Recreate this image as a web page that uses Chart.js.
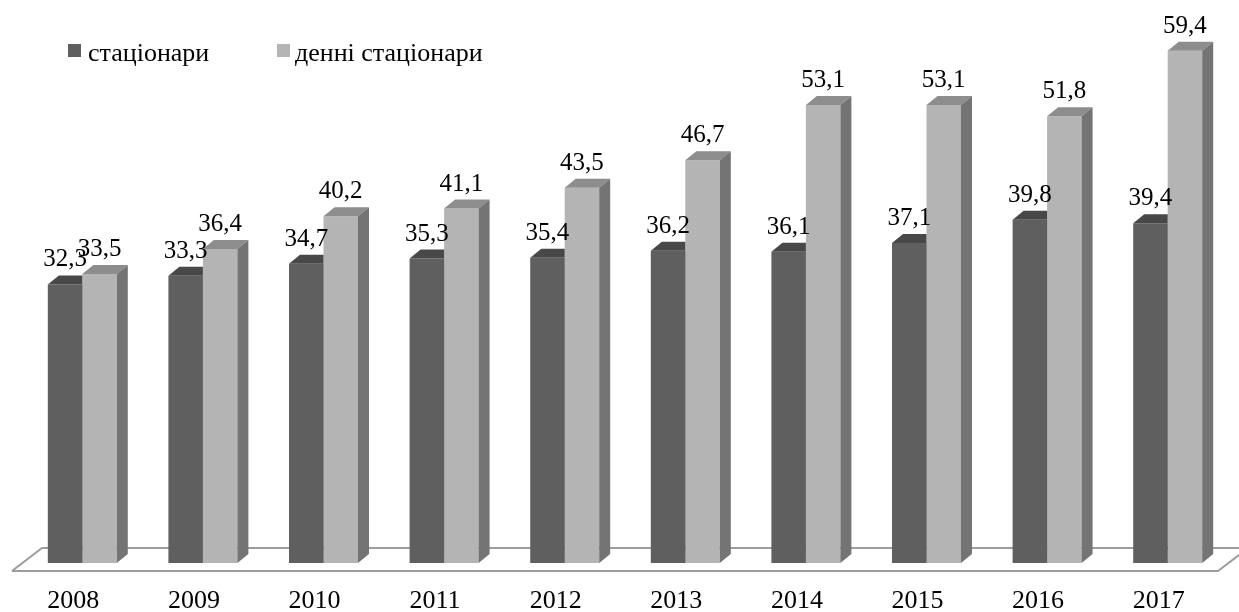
<!DOCTYPE html>
<html>
<head>
<meta charset="utf-8">
<script src="https://cdn.jsdelivr.net/npm/chart.js@4"></script>
<style>
  body { margin: 0; background: #fff; }
  #wrap { position: relative; width: 1239px; height: 612px; }
  .key { position: absolute; width: 13px; height: 13px; }
  .keyText { position: absolute; font: 26px/26px "Liberation Serif", "Times New Roman", serif; color: #000; white-space: nowrap; }
</style>
</head>
<body>
<div id="wrap">
  <canvas id="chart" width="1239" height="612"></canvas>
  <div class="key" style="left:68px;top:44px;background:#5f5f5f"></div>
  <div class="keyText" id="name0" style="left:88px;top:40px"></div>
  <div class="key" style="left:277px;top:44px;background:#b4b4b4"></div>
  <div class="keyText" id="name1" style="left:295px;top:40px"></div>
</div>
<script>
const years = ['2008', '2009', '2010', '2011', '2012', '2013', '2014', '2015', '2016', '2017'];
const inpatient = [32.3, 33.3, 34.7, 35.3, 35.4, 36.2, 36.1, 37.1, 39.8, 39.4];
const dayCare = [33.5, 36.4, 40.2, 41.1, 43.5, 46.7, 53.1, 53.1, 51.8, 59.4];
const seriesNames = ['стаціонари', 'денні стаціонари'];

const FONT = '"Liberation Serif", "Times New Roman", serif';
const DX = 11, DY = 9; // depth of the fake 3d
const fronts = ['#5f5f5f', '#b4b4b4'];
const tops = ['#484848', '#8d8d8d'];
const sides = ['#4a4a4a', '#747474'];

document.getElementById('name0').textContent = seriesNames[0];
document.getElementById('name1').textContent = seriesNames[1];

function box(ctx, pts, color) {
  ctx.fillStyle = color;
  ctx.beginPath();
  ctx.moveTo(pts[0][0], pts[0][1]);
  for (let i = 1; i < pts.length; i++) ctx.lineTo(pts[i][0], pts[i][1]);
  ctx.closePath();
  ctx.fill();
}

const fake3d = {
  id: 'fake3d',
  beforeDatasetsDraw(chart) {
    // floor slab outline
    const ctx = chart.ctx, a = chart.chartArea;
    const front = a.bottom + 8, back = a.bottom - 15;
    ctx.save();
    ctx.strokeStyle = '#9c9c9c';
    ctx.lineWidth = 2;
    ctx.beginPath();
    ctx.moveTo(a.left - 10, front);
    ctx.lineTo(a.left + 20, back);
    ctx.lineTo(1260, back);
    ctx.moveTo(a.left - 10, front);
    ctx.lineTo(a.right - 10, front);
    ctx.lineTo(a.right + 20, back);
    ctx.stroke();
    ctx.restore();
  },
  afterDatasetDraw(chart, args) {
    const ctx = chart.ctx;
    const i = args.index;
    const other = chart.getDatasetMeta(1).data;
    args.meta.data.forEach((el, j) => {
      const xl = el.x - el.width / 2, xr = el.x + el.width / 2;
      const yt = el.y, yb = el.base;
      ctx.save();
      if (i === 0) {
        // hide the parts behind the light bar in front
        const o = other[j];
        ctx.beginPath();
        ctx.rect(0, 0, chart.width, chart.height);
        ctx.rect(o.x - o.width / 2, o.y, o.width, o.base - o.y);
        ctx.clip('evenodd');
      }
      box(ctx, [[xl, yt], [xl + DX, yt - DY], [xr + DX, yt - DY], [xr, yt]], tops[i]);
      box(ctx, [[xr, yt], [xr + DX, yt - DY], [xr + DX, yb - DY], [xr, yb]], sides[i]);
      ctx.restore();
    });
  },
  afterDatasetsDraw(chart) {
    const ctx = chart.ctx;
    ctx.save();
    ctx.font = '25px ' + FONT;
    ctx.fillStyle = '#000';
    ctx.textAlign = 'center';
    ctx.textBaseline = 'alphabetic';
    chart.data.datasets.forEach((ds, i) => {
      chart.getDatasetMeta(i).data.forEach((el, j) => {
        ctx.fillText(ds.data[j].toFixed(1).replace('.', ','), el.x, el.y - 18);
      });
    });
    ctx.restore();
  }
};

new Chart(document.getElementById('chart').getContext('2d'), {
  type: 'bar',
  data: {
    labels: years,
    datasets: [
      { label: seriesNames[0], data: inpatient, backgroundColor: fronts[0] },
      { label: seriesNames[1], data: dayCare, backgroundColor: fronts[1] }
    ]
  },
  options: {
    responsive: false,
    animation: false,
    layout: { padding: { left: 22, right: 11, top: 0, bottom: -27 } },
    datasets: { bar: { categoryPercentage: 0.572, barPercentage: 1, borderWidth: 0 } },
    plugins: {
      legend: { display: false },
      tooltip: { enabled: false }
    },
    scales: {
      x: {
        grid: { display: false, drawTicks: false },
        border: { display: false },
        ticks: {
          color: '#000',
          font: { family: FONT, size: 26, lineHeight: 1 },
          padding: 25,
          labelOffset: -9,
          maxRotation: 0
        }
      },
      y: { display: false, min: 0, max: 65.28 }
    }
  },
  plugins: [fake3d]
});
</script>
</body>
</html>
